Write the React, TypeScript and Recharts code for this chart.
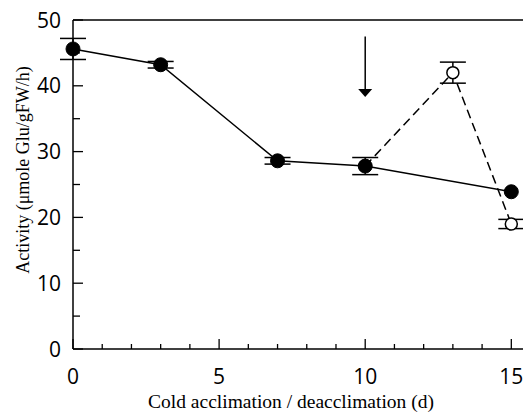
import React from 'react';
import { ComposedChart, Line, XAxis, YAxis, ErrorBar, ReferenceLine, Label } from 'recharts';

// cold acclimation series (filled circles)
const coldDays = [0, 3, 7, 10, 15];
const coldActivity = [45.6, 43.2, 28.6, 27.8, 23.9];
const coldErr = [1.6, 0.5, 0.5, 1.3, 0];

// deacclimation series (open circles)
const deDays = [10, 13, 15];
const deActivity = [27.8, 42.0, 19.0];
const deErr = [0, 1.6, 0.7];

const xTicks = [0, 1, 2, 3, 4, 5, 6, 7, 8, 9, 10, 11, 12, 13, 14, 15];
const yTicks = [0, 5, 10, 15, 20, 25, 30, 35, 40, 45, 50];

// arrow marking start of deacclimation
const arrowDay = 10;
const arrowTop = 47.5;
const arrowTip = 38.3;

const coldData = coldDays.map((d, i) => ({ day: d, activity: coldActivity[i], err: coldErr[i] }));
const deData = deDays.map((d, i) => ({ day: d, activity: deActivity[i], err: deErr[i] }));

const TICK_FONT = '"Open Sans", sans-serif';
const LABEL_FONT = '"Liberation Serif", "Times New Roman", serif';
const X_MARGIN = 10;
const Y_MARGIN = 10;

const XTick = (props: any) => {
  const { x, y, payload } = props;
  const axisY = y - X_MARGIN;
  const major = payload.value % 5 === 0;
  return (
    <g>
      <line x1={x} x2={x} y1={axisY} y2={axisY - (major ? 10 : 5)} stroke="#000" strokeWidth={1.3} />
      {major && (
        <text x={x} y={axisY + 35} textAnchor="middle" fontFamily={TICK_FONT} fontSize={21} fill="#000">
          {payload.value}
        </text>
      )}
    </g>
  );
};

const YTick = (props: any) => {
  const { x, y, payload } = props;
  const axisX = x + Y_MARGIN;
  const major = payload.value % 10 === 0;
  return (
    <g>
      <line x1={axisX} x2={axisX + (major ? 10 : 7)} y1={y} y2={y} stroke="#000" strokeWidth={1.3} />
      {major && (
        <text x={61} y={y} dy={7.5} textAnchor="end" fontFamily={TICK_FONT} fontSize={21} fill="#000">
          {payload.value}
        </text>
      )}
    </g>
  );
};

const Arrow = (props: any) => {
  const { x1, y1, x2, y2 } = props;
  return (
    <g>
      <line x1={x1} y1={y1} x2={x2} y2={y2 - 6} stroke="#000" strokeWidth={1.5} />
      <path d={`M${x2 - 7},${y2 - 8} L${x2 + 7},${y2 - 8} L${x2},${y2} Z`} fill="#000" />
    </g>
  );
};

const YTitle = () => (
  <text
    x={23}
    y={170}
    transform="rotate(-90, 23, 170)"
    textAnchor="middle"
    dominantBaseline="central"
    fontFamily={LABEL_FONT}
    fontSize={18}
    fill="#000"
  >
    Activity (μmole Glu/gFW/h)
  </text>
);

const XTitle = () => (
  <text x={291} y={408} textAnchor="middle" fontFamily={LABEL_FONT} fontSize={19.5} fill="#000">
    Cold acclimation / deacclimation (d)
  </text>
);

export default function App() {
  return (
    <div style={{ position: 'absolute', left: 0, top: 0, width: 523, height: 414, background: '#fff' }}>
      <ComposedChart width={523} height={414} margin={{ top: 20, right: 0, bottom: 0, left: 0 }}>
        <XAxis
          type="number"
          dataKey="day"
          domain={[0, 15.4]}
          ticks={xTicks}
          allowDuplicatedCategory={false}
          height={65}
          tickSize={0}
          tickMargin={X_MARGIN}
          tickLine={false}
          tick={<XTick />}
          axisLine={{ stroke: '#000', strokeWidth: 1.5 }}
          interval={0}
        >
          <Label content={<XTitle />} />
        </XAxis>
        <YAxis
          type="number"
          domain={[0, 50]}
          ticks={yTicks}
          width={73}
          tickSize={0}
          tickMargin={Y_MARGIN}
          tickLine={false}
          tick={<YTick />}
          axisLine={{ stroke: '#000', strokeWidth: 1.5 }}
          interval={0}
        >
          <Label content={<YTitle />} />
        </YAxis>
        <ReferenceLine y={50} stroke="#000" strokeWidth={1.5} />
        <ReferenceLine
          segment={[{ x: arrowDay, y: arrowTop }, { x: arrowDay, y: arrowTip }]}
          shape={<Arrow />}
        />
        <Line
          data={deData}
          dataKey="activity"
          stroke="#000"
          strokeWidth={1.5}
          strokeDasharray="9 5"
          dot={{ r: 6, fill: '#fff', stroke: '#000', strokeWidth: 1.5, strokeDasharray: '' }}
          isAnimationActive={false}
        >
          <ErrorBar dataKey="err" direction="y" width={13} stroke="#000" strokeWidth={1.5} />
        </Line>
        <Line
          data={coldData}
          dataKey="activity"
          stroke="#000"
          strokeWidth={1.5}
          dot={{ r: 7, fill: '#000', stroke: '#000', strokeWidth: 1 }}
          isAnimationActive={false}
        >
          <ErrorBar dataKey="err" direction="y" width={13} stroke="#000" strokeWidth={1.5} />
        </Line>
      </ComposedChart>
    </div>
  );
}
